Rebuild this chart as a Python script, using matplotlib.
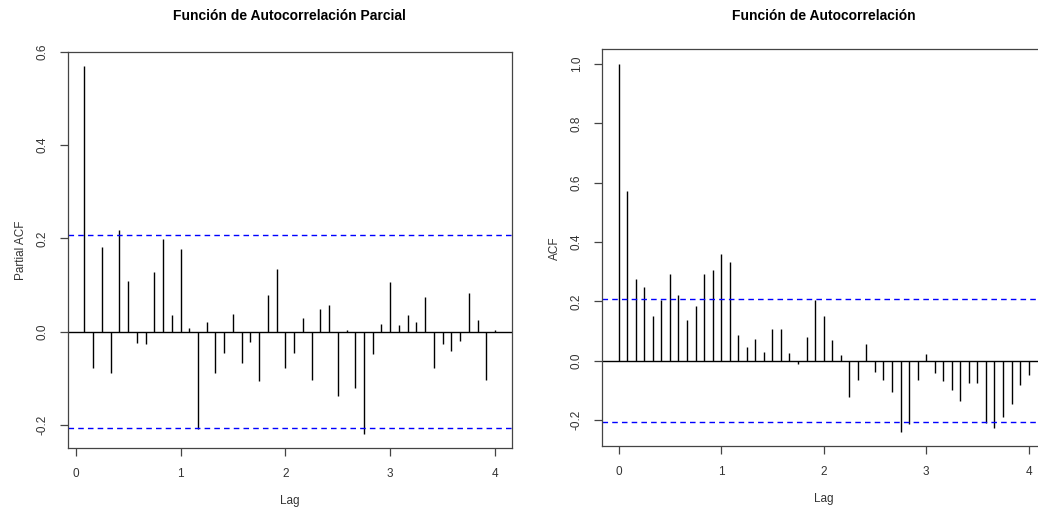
import numpy as np
import matplotlib
matplotlib.use("Agg")
import matplotlib.pyplot as plt

plt.rcParams['font.family'] = ['Liberation Sans', 'DejaVu Sans']

# monthly series, frequency 12 -> lags in years
freq = 12
n_obs = 90

pacf_vals = [
    0.569, -0.079, 0.182, -0.088, 0.218, 0.109, -0.024, -0.026, 0.128, 0.199,
    0.036, 0.177, 0.008, -0.209, 0.021, -0.090, -0.045, 0.037, -0.068, -0.022,
    -0.107, 0.079, 0.134, -0.079, -0.046, 0.029, -0.105, 0.048, 0.057, -0.139,
    0.003, -0.122, -0.219, -0.049, 0.016, 0.106, 0.013, 0.035, 0.021, 0.074,
    -0.078, -0.026, -0.041, -0.021, 0.082, 0.025, -0.105, 0.003,
]
acf_vals = [
    1.000, 0.571, 0.274, 0.247, 0.152, 0.203, 0.293, 0.220, 0.136, 0.185,
    0.293, 0.307, 0.361, 0.332, 0.085, 0.047, 0.074, 0.028, 0.106, 0.106,
    0.025, -0.010, 0.079, 0.205, 0.152, 0.069, 0.018, -0.123, -0.066, 0.057,
    -0.039, -0.066, -0.107, -0.239, -0.212, -0.066, 0.021, -0.042, -0.069, -0.099,
    -0.136, -0.074, -0.074, -0.210, -0.227, -0.189, -0.145, -0.082, -0.047,
]

pacf_lags = np.arange(1, len(pacf_vals) + 1) / freq
acf_lags = np.arange(0, len(acf_vals)) / freq
clim = 1.96 / np.sqrt(n_obs)

W, H = 1038, 516
fig = plt.figure(figsize=(W / 100, H / 100), dpi=100)


def padded(lo, hi, frac=0.04):
    d = (hi - lo) * frac
    return lo - d, hi + d


def draw_corr(ax, lags, vals, ylabel, title, yticks, title_pad):
    ax.vlines(lags, 0, vals, color='black', lw=1.0)
    ax.axhline(0, color='black', lw=1.0)
    for c in (clim, -clim):
        ax.axhline(c, color='#0000FF', lw=1.0, ls=(0, (4, 3)))
    ax.set_xlim(*padded(min(lags), max(lags)))
    ax.set_ylim(*padded(min(min(vals), -clim), max(max(vals), clim)))
    ax.set_xticks([0, 1, 2, 3, 4])
    ax.set_yticks(yticks)
    ax.set_yticklabels([f'{t:.1f}' for t in yticks], rotation=90, va='center')
    ax.tick_params(direction='out', length=6, width=0.9, colors='#444444',
                   labelcolor='#333333', labelsize=8.5)
    ax.tick_params(axis='y', pad=8)
    ax.tick_params(axis='x', pad=8)
    for s in ax.spines.values():
        s.set_color('#444444')
        s.set_linewidth(0.9)
    ax.set_xlabel('Lag', fontsize=8.5, color='#333333', labelpad=11)
    ax.set_ylabel(ylabel, fontsize=8.5, color='#333333', labelpad=7)
    ax.set_title(title, fontsize=10, fontweight='bold', pad=title_pad)


ax1 = fig.add_axes([68 / W, 1 - 448.3 / H, (511.5 - 68) / W, (448.3 - 51.7) / H])
draw_corr(ax1, pacf_lags, pacf_vals, 'Partial ACF',
          'Función de Autocorrelación Parcial', [-0.2, 0.0, 0.2, 0.4, 0.6], 23)

ax2 = fig.add_axes([602.3 / W, 1 - 446.3 / H, (1045 - 602.3) / W, (446.3 - 49.3) / H])
draw_corr(ax2, acf_lags, acf_vals, 'ACF',
          'Función de Autocorrelación', [-0.2, 0.0, 0.2, 0.4, 0.6, 0.8, 1.0], 21)

fig.savefig('out.png', dpi=100, facecolor='white')
